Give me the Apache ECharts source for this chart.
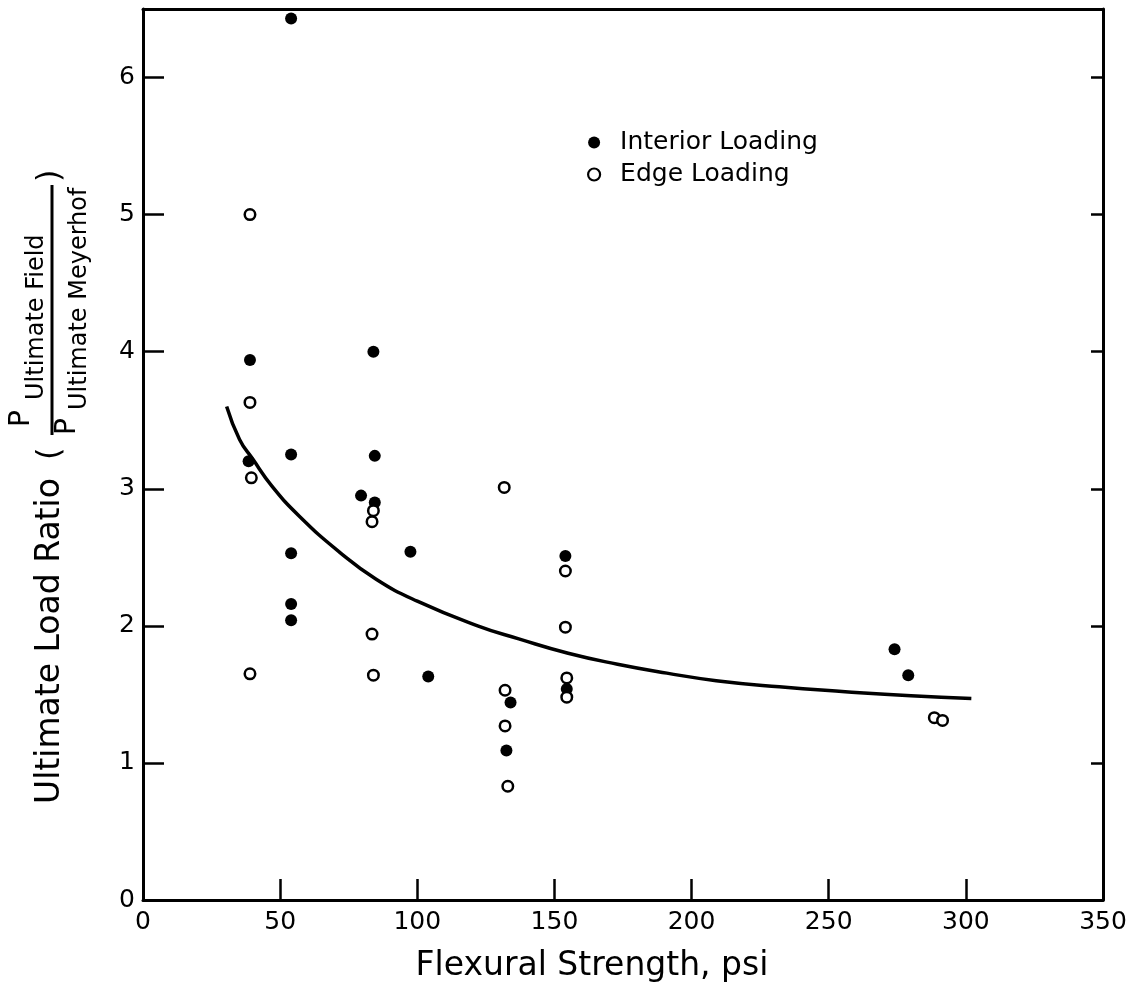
<!DOCTYPE html>
<html>
<head>
<meta charset="utf-8">
<script src="https://cdn.jsdelivr.net/npm/echarts@6.0.0/dist/echarts.min.js"></script>
<style>
  html, body { margin: 0; padding: 0; background: #ffffff; }
  #chart { width: 1136px; height: 988px; }
</style>
</head>
<body>
<div id="chart"></div>
<script>
// Interior loading tests (filled circles): flexural strength (psi) vs load ratio
const interiorX = [54, 39, 38.5, 54, 54, 54, 54, 84, 84.5, 79.5, 84.5, 97.5, 104, 134, 132.5, 154, 154.5, 274, 279];
const interiorY = [6.43, 3.94, 3.2, 3.25, 2.53, 2.16, 2.04, 4.0, 3.24, 2.95, 2.9, 2.54, 1.63, 1.44, 1.09, 2.51, 1.54, 1.83, 1.64];

// Edge loading tests (open circles)
const edgeX = [39, 39, 39.5, 39, 84, 83.5, 83.5, 84, 131.7, 132, 132, 133, 154, 154, 154.5, 154.5, 288.5, 291.5];
const edgeY = [5.0, 3.63, 3.08, 1.65, 2.84, 2.76, 1.94, 1.64, 3.01, 1.53, 1.27, 0.83, 2.40, 1.99, 1.62, 1.48, 1.33, 1.31];

// Trend curve drawn through the data
const curveX = [30.5, 35.2, 39.9, 47, 57, 71.5, 85, 100, 122, 137, 155, 173, 191, 209, 232, 256, 280, 302];
const curveY = [3.60, 3.36, 3.22, 3.02, 2.80, 2.54, 2.34, 2.18, 2.00, 1.905, 1.80, 1.72, 1.655, 1.60, 1.555, 1.52, 1.49, 1.47];

// Axis ticks
const xTicks = [0, 50, 100, 150, 200, 250, 300, 350];
const yTicks = [0, 1, 2, 3, 4, 5, 6];

const FONT = 'DejaVu Sans';
const zip = (xs, ys) => xs.map((x, i) => [x, ys[i]]);

const chart = echarts.init(document.getElementById('chart'), null, { renderer: 'canvas' });

const axisLine = { show: true, onZero: false, lineStyle: { color: '#000', width: 3 } };

function label(text, x, y, size) {
  return {
    type: 'text', x: x, y: y,
    style: { text: text, fontSize: size, fontFamily: FONT, fill: '#000',
      align: 'left', verticalAlign: 'middle', textAlign: 'left', textVerticalAlign: 'middle' }
  };
}

// Rotated y-axis title with a stacked ratio; local x runs upward, local y runs rightward
const yTitle = {
  type: 'group',
  x: 0,
  y: 804,
  rotation: Math.PI / 2,
  children: [
    label('Ultimate Load Ratio', 0, 50, 33),
    label('(', 344, 51, 32),
    label('P', 377, 22, 28),
    label('Ultimate Field', 404, 37, 24),
    { type: 'line', shape: { x1: 369, y1: 52, x2: 619, y2: 52 }, style: { stroke: '#000', lineWidth: 3 } },
    label('P', 369, 68, 28),
    label('Ultimate Meyerhof', 394, 80, 24),
    label(')', 622, 51, 32)
  ]
};

const option = {
  animation: false,
  backgroundColor: '#ffffff',
  grid: { left: 143, right: 33, top: 9, bottom: 88, containLabel: false },
  legend: {
    orient: 'vertical',
    left: 582,
    top: 125,
    itemWidth: 42,
    itemHeight: 12,
    itemGap: 7,
    icon: 'circle',
    textStyle: { fontSize: 25, lineHeight: 22, fontFamily: FONT, color: '#000' },
    data: [
      { name: 'Interior Loading', itemStyle: { color: '#000', borderWidth: 0 } },
      { name: 'Edge Loading', itemStyle: { color: '#fff', borderColor: '#000', borderWidth: 2.2 } }
    ]
  },
  xAxis: [
    {
      type: 'value', position: 'bottom', min: xTicks[0], max: xTicks[xTicks.length - 1], interval: 50,
      axisLine: axisLine,
      axisTick: { show: true, inside: true, length: 21, lineStyle: { color: '#000', width: 2.5 } },
      axisLabel: { color: '#000', fontSize: 25, fontFamily: FONT, margin: 10,
        formatter: v => (xTicks.includes(v) ? String(v) : '') },
      splitLine: { show: false }
    },
    {
      type: 'value', position: 'top', min: xTicks[0], max: xTicks[xTicks.length - 1],
      axisLine: axisLine, axisTick: { show: false }, axisLabel: { show: false }, splitLine: { show: false }
    }
  ],
  yAxis: [
    {
      type: 'value', position: 'left', min: 0, max: 6.5, interval: 1,
      axisLine: axisLine,
      axisTick: { show: true, inside: true, length: 21, lineStyle: { color: '#000', width: 2.5 } },
      axisLabel: { color: '#000', fontSize: 25, fontFamily: FONT, margin: 8,
        formatter: v => (yTicks.includes(v) ? String(v) : '') },
      splitLine: { show: false }
    },
    {
      type: 'value', position: 'right', min: 0, max: 6.5, interval: 1,
      axisLine: axisLine,
      axisTick: { show: true, inside: true, length: 12, lineStyle: { color: '#000', width: 2.5 } },
      axisLabel: { show: false }, splitLine: { show: false }
    }
  ],
  graphic: [
    yTitle,
    { type: 'text', x: 592, y: 966,
      style: { text: 'Flexural Strength, psi', fontSize: 33, fontFamily: FONT, fill: '#000',
        align: 'center', verticalAlign: 'middle', textAlign: 'center', textVerticalAlign: 'middle' } }
  ],
  series: [
    {
      name: 'Trend', type: 'line', xAxisIndex: 0, yAxisIndex: 0,
      data: zip(curveX, curveY), smooth: 0.5, showSymbol: false, symbol: 'none',
      lineStyle: { color: '#000', width: 3.5 }, z: 2
    },
    {
      name: 'Interior Loading', type: 'scatter', xAxisIndex: 0, yAxisIndex: 0,
      data: zip(interiorX, interiorY), symbol: 'circle', symbolSize: 12,
      itemStyle: { color: '#000', opacity: 1 }, z: 3
    },
    {
      name: 'Edge Loading', type: 'scatter', xAxisIndex: 0, yAxisIndex: 0,
      data: zip(edgeX, edgeY), symbol: 'circle', symbolSize: 10.5,
      itemStyle: { color: '#fff', borderColor: '#000', borderWidth: 2.5, opacity: 1 }, z: 4
    }
  ]
};

chart.setOption(option);
</script>
</body>
</html>
